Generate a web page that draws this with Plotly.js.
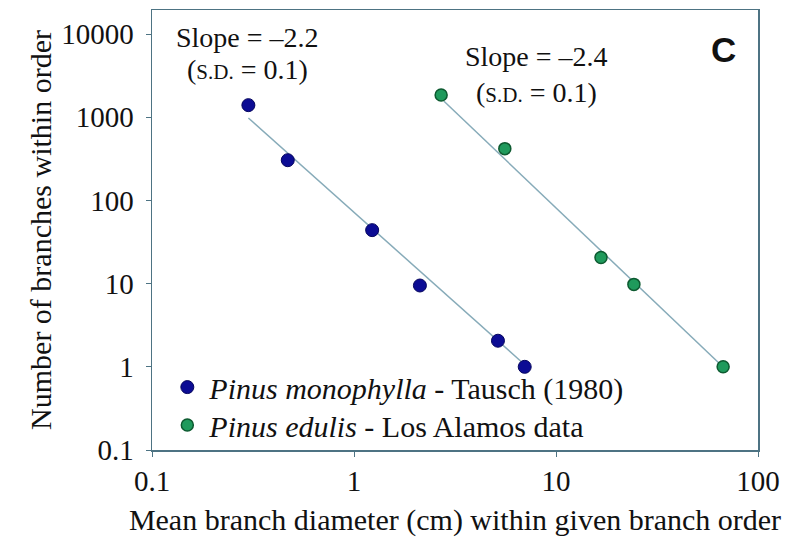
<!DOCTYPE html>
<html>
<head>
<meta charset="utf-8">
<script src="https://cdn.plot.ly/plotly-3.0.1.min.js"></script>
<style>html,body{margin:0;padding:0;background:#fff;}#chart{width:794px;height:538px;}</style>
</head>
<body>
<div id="chart"></div>
<script>
// Pinus monophylla - Tausch (1980)
var monoDiameter = [0.30, 0.47, 1.23, 2.12, 5.16, 7.0];
var monoCount    = [1400, 305, 44, 9.5, 2.06, 1.0];
var monoFitX     = [0.30, 7.0];
var monoFitY     = [980, 1.06];
// Pinus edulis - Los Alamos data
var eduDiameter  = [2.70, 5.58, 16.7, 24.3, 67.2];
var eduCount     = [1850, 420, 20.6, 9.8, 1.0];
var eduFitX      = [2.79, 64.8];
var eduFitY      = [1560, 1.08];
var xTicks = [0.1, 1, 10, 100];
var xTickText = ["0.1", "1", "10", "100"];
var yTicks = [0.1, 1, 10, 100, 1000, 10000];
var yTickText = ["0.1", "1", "10", "100", "1000", "10000"];

var serif = "'Liberation Serif', 'Times New Roman', Times, serif";
var axisColor = "#4d7383";
var fitColor = "#87abb9";

var traces = [
  {x: monoFitX, y: monoFitY, mode: "lines", line: {color: fitColor, width: 1.5}, showlegend: false, hoverinfo: "skip"},
  {x: eduFitX, y: eduFitY, mode: "lines", line: {color: fitColor, width: 1.5}, showlegend: false, hoverinfo: "skip"},
  {x: monoDiameter, y: monoCount, mode: "markers", name: "<i>Pinus monophylla</i> - Tausch (1980)",
   legend: "legend", marker: {color: "#0c0c94", size: 13, line: {color: "#06065e", width: 1}}},
  {x: eduDiameter, y: eduCount, mode: "markers", name: "<i>Pinus edulis</i> - Los Alamos data",
   legend: "legend2", marker: {color: "#1f9a5c", size: 12, line: {color: "#0d5a30", width: 1.5}}}
];

var txt = {family: serif, size: 30, color: "#111"};
var legFont = {family: serif, size: 30, color: "#111"};

var layout = {
  width: 794, height: 538,
  margin: {l: 152, r: 36, t: 10, b: 88},
  paper_bgcolor: "#fff", plot_bgcolor: "#fff",
  font: txt,
  showlegend: true,
  legend: {x: 0.022, y: 0.143, xanchor: "left", yanchor: "middle", bgcolor: "rgba(0,0,0,0)",
           font: legFont, itemwidth: 34},
  legend2: {x: 0.022, y: 0.057, xanchor: "left", yanchor: "middle", bgcolor: "rgba(0,0,0,0)",
           font: legFont, itemwidth: 34},
  xaxis: {type: "log", range: [-1, 2], tickvals: xTicks, ticktext: xTickText,
          showgrid: false, zeroline: false, showline: true, linecolor: axisColor, linewidth: 1.5,
          mirror: true, ticks: "outside", ticklen: 5, tickcolor: axisColor,
          tickfont: {family: serif, size: 29, color: "#111"},
          title: {text: "Mean branch diameter (cm) within given branch order", font: txt, standoff: 12}},
  yaxis: {type: "log", range: [-1, 4.29], tickvals: yTicks, ticktext: yTickText,
          showgrid: false, zeroline: false, showline: true, linecolor: axisColor, linewidth: 1.5,
          mirror: true, ticks: "outside", ticklen: 5, tickcolor: axisColor, ticklabelstandoff: 6,
          tickfont: {family: serif, size: 29, color: "#111"},
          title: {text: "Number of branches within order", font: txt, standoff: 0}},
  annotations: [
    {xref: "paper", yref: "paper", x: 0.158, y: 0.937, xanchor: "center", yanchor: "middle", text: "Slope = –2.2", showarrow: false, font: {family: serif, size: 28, color: "#111"}},
    {xref: "paper", yref: "paper", x: 0.158, y: 0.864, xanchor: "center", yanchor: "middle", text: "(<span style='font-size:21px'>S.D.</span> = 0.1)", showarrow: false, font: {family: serif, size: 28, color: "#111"}},
    {xref: "paper", yref: "paper", x: 0.635, y: 0.894, xanchor: "center", yanchor: "middle", text: "Slope = –2.4", showarrow: false, font: {family: serif, size: 28, color: "#111"}},
    {xref: "paper", yref: "paper", x: 0.635, y: 0.812, xanchor: "center", yanchor: "middle", text: "(<span style='font-size:21px'>S.D.</span> = 0.1)", showarrow: false, font: {family: serif, size: 28, color: "#111"}},
    {xref: "paper", yref: "paper", x: 0.943, y: 0.91, xanchor: "center", yanchor: "middle", text: "<b>C</b>", showarrow: false, font: {family: "'Liberation Sans', Arial, sans-serif", size: 35, color: "#111"}}
  ]
};

Plotly.newPlot("chart", traces, layout, {displayModeBar: false, staticPlot: true});
</script>
</body>
</html>
